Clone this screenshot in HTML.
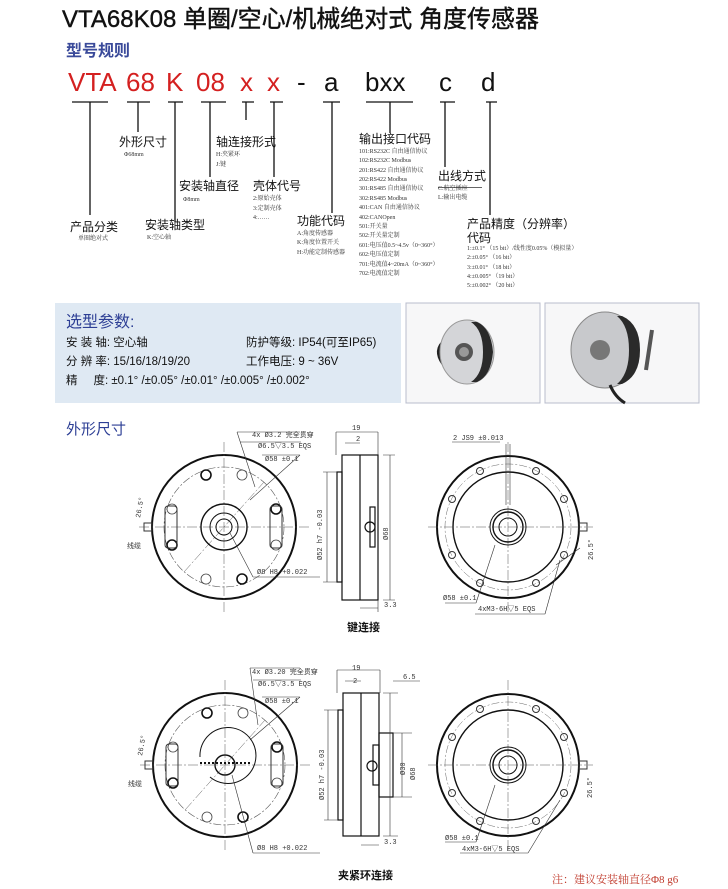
<!DOCTYPE html>
<html><head><meta charset="utf-8"><style>
html,body{margin:0;padding:0;background:#fff;}
svg{display:block;font-family:"Liberation Sans","Noto Sans CJK SC",sans-serif;}
.s{font-family:"Liberation Serif","Noto Serif CJK SC",serif;font-size:6px;fill:#333}
.l{font-size:12px;fill:#111}
.d{font-family:"Liberation Mono","Noto Sans CJK SC",monospace;font-size:7px;fill:#333}
</style></head><body>
<svg width="728" height="889" viewBox="0 0 728 889" xmlns="http://www.w3.org/2000/svg">
<text x="62" y="27" font-size="24" fill="#111" stroke="#111" stroke-width=".4">VTA68K08 单圈/空心/机械绝对式 角度传感器</text>
<text x="66" y="56" font-size="16" font-weight="bold" fill="#3a4a9a">型号规则</text>
<g font-size="26" fill="#d42020">
<text x="68" y="91">VTA</text><text x="126" y="91">68</text><text x="166" y="91">K</text><text x="196" y="91">08</text><text x="240" y="91">x</text><text x="267" y="91">x</text></g>
<g font-size="26" fill="#111"><text x="297" y="91">-</text><text x="324" y="91">a</text><text x="365" y="91">bxx</text><text x="439" y="91">c</text><text x="481" y="91">d</text></g>
<g stroke="#111" stroke-width="1.3">
<path d="M72 102H108M90 102V215M127 102H150M138 102V132M168 102H183M175 102V222M201 102H226M210 102V177M242 102H254M246 102V120M270 102H283M274 102V177M323 102H340M332 102V213M366 102H413M390 102V133M440 102H455M445 102V167M486 102H497M490 102V215"/></g>
<text class="l" x="70" y="231">产品分类</text><text class="s" x="78" y="240">单圈绝对式</text>
<text class="l" x="119" y="146">外形尺寸</text><text class="s" x="124" y="156">Φ68mm</text>
<text class="l" x="216" y="146">轴连接形式</text><text class="s" x="216" y="156">H:夹紧环</text><text class="s" x="216" y="166">J:键</text>
<text class="l" x="179" y="190">安装轴直径</text><text class="s" x="183" y="201">Φ8mm</text>
<text class="l" x="253" y="190">壳体代号</text><text class="s" x="253" y="200">2:原始壳体</text><text class="s" x="253" y="210">3:定制壳体</text><text class="s" x="253" y="219">4:……</text>
<text class="l" x="145" y="229">安装轴类型</text><text class="s" x="147" y="239">K:空心轴</text>
<text class="l" x="297" y="225">功能代码</text><text class="s" x="297" y="235">A:角度传感器</text><text class="s" x="297" y="244">K:角度位置开关</text><text class="s" x="297" y="254">H:功能定制传感器</text>
<text class="l" x="359" y="143">输出接口代码</text>
<g class="s"><text x="359" y="153">101:RS232C 自由通信协议</text><text x="359" y="162">102:RS232C Modbus</text><text x="359" y="172">201:RS422 自由通信协议</text><text x="359" y="181">202:RS422 Modbus</text><text x="359" y="190">301:RS485 自由通信协议</text><text x="359" y="200">302:RS485 Modbus</text><text x="359" y="209">401:CAN 自由通信协议</text><text x="359" y="219">402:CANOpen</text><text x="359" y="228">501:开关量</text><text x="359" y="237">502:开关量定制</text><text x="359" y="247">601:电压值0.5~4.5v（0~360°）</text><text x="359" y="256">602:电压值定制</text><text x="359" y="266">701:电流值4~20mA（0~360°）</text><text x="359" y="275">702:电流值定制</text></g>
<text class="l" x="438" y="180">出线方式</text><text class="s" x="438" y="190">C:航空插座</text><path d="M438 187.5H482" stroke="#333" stroke-width=".8"/><text class="s" x="438" y="199">L:输出电缆</text>
<text class="l" x="467" y="228">产品精度（分辨率）</text><text class="l" x="467" y="242">代码</text>
<g class="s"><text x="467" y="250">1:±0.1° （15 bit）/线性度0.05%（模拟量）</text><text x="467" y="259">2:±0.05° （16 bit）</text><text x="467" y="269">3:±0.01° （18 bit）</text><text x="467" y="278">4:±0.005° （19 bit）</text><text x="467" y="287">5:±0.002° （20 bit）</text></g>
<rect x="55" y="303" width="346" height="100" fill="#dfe9f3"/>
<text x="66" y="327" font-size="16" fill="#2d3f95">选型参数:</text>
<g font-size="11.5" fill="#111"><text x="66" y="346">安 装 轴: 空心轴</text><text x="66" y="365">分 辨 率: 15/16/18/19/20</text><text x="66" y="384">精 &#160; &#160; 度: ±0.1° /±0.05° /±0.01° /±0.005° /±0.002°</text>
<text x="246" y="346">防护等级: IP54(可至IP65)</text><text x="246" y="365">工作电压: 9 ~ 36V</text></g>
<rect x="406" y="303" width="134" height="100" fill="#f7f7f8" stroke="#b8bccc"/>
<rect x="545" y="303" width="154" height="100" fill="#f7f7f8" stroke="#b8bccc"/>
<path d="M445 340q-12 10 -2 24" stroke="#222" stroke-width="3" fill="none"/>
<ellipse cx="467" cy="352" rx="27" ry="32" fill="#d4d5d8" stroke="#999"/><path d="M477 322q14 6 16 30q-2 24-16 30l-6 0q12-8 12-30q0-22-12-30z" fill="#2a2a2a"/><circle cx="464" cy="352" r="9" fill="#555"/><circle cx="464" cy="352" r="5" fill="#999"/>
<ellipse cx="605" cy="350" rx="34" ry="38" fill="#c8c9cc" stroke="#888"/><path d="M622 316q18 8 18 34q0 26-18 34l-5 0q12-10 12-34q0-24-12-34z" fill="#2a2a2a"/><circle cx="600" cy="350" r="10" fill="#777"/><path d="M652 330l-6 40" stroke="#555" stroke-width="4"/><path d="M610 385q5 12 15 18" stroke="#222" stroke-width="3" fill="none"/>
<text x="66" y="434" font-size="15" fill="#2d3f95">外形尺寸</text>
<defs>
<g id="fv">
<circle r="72" fill="none" stroke="#111" stroke-width="2"/>
<circle r="60" fill="none" stroke="#555" stroke-width=".6" stroke-dasharray="8 2 2 2"/>
<path d="M-85 0H85M0-85V85M-40 45L40-45" stroke="#555" stroke-width=".5" stroke-dasharray="10 2 2 2"/>
<g fill="none" stroke="#111" stroke-width="1.6"><circle cx="-18" cy="-52" r="5"/><circle cx="-52" cy="18" r="5"/><circle cx="52" cy="-18" r="5"/><circle cx="18" cy="52" r="5"/></g>
<g fill="none" stroke="#444" stroke-width=".8"><circle cx="18" cy="-52" r="5"/><circle cx="-52" cy="-18" r="5"/><circle cx="52" cy="18" r="5"/><circle cx="-18" cy="52" r="5"/></g>
<rect x="-59" y="-21" width="12" height="42" rx="3" fill="none" stroke="#333"/><rect x="46" y="-21" width="12" height="42" rx="3" fill="none" stroke="#333"/>
<rect x="-80" y="-4" width="8" height="8" fill="none" stroke="#333"/>
</g>
<g id="rv">
<circle r="71" fill="none" stroke="#111" stroke-width="2"/>
<circle r="55" fill="none" stroke="#111" stroke-width="1.4"/>
<circle r="63" fill="none" stroke="#666" stroke-width=".5" stroke-dasharray="8 2 2 2"/>
<path d="M-80 0H85M0-85V85" stroke="#555" stroke-width=".5" stroke-dasharray="10 2 2 2"/>
<g fill="none" stroke="#333"><circle cx="-28" cy="-56" r="3.5"/><circle cx="28" cy="-56" r="3.5"/><circle cx="-56" cy="-28" r="3.5"/><circle cx="56" cy="-28" r="3.5"/><circle cx="-56" cy="28" r="3.5"/><circle cx="56" cy="28" r="3.5"/><circle cx="-28" cy="56" r="3.5"/><circle cx="28" cy="56" r="3.5"/></g>
<circle r="18" fill="none" stroke="#111"/><circle r="15" fill="none" stroke="#111" stroke-width="1.4"/><circle r="9" fill="none" stroke="#111"/>
<rect x="71" y="-4" width="8" height="8" fill="none" stroke="#333"/>
</g>
</defs>
<use href="#fv" x="224" y="527"/>
<g fill="none" stroke="#111"><circle cx="224" cy="527" r="23" stroke-width="1.4"/><circle cx="224" cy="527" r="14"/><circle cx="224" cy="527" r="8"/></g>
<use href="#rv" x="508" y="527"/>
<use href="#fv" x="225" y="765"/>
<g fill="none" stroke="#111"><path d="M200 757a28 28 0 1 1 10 20"/><circle cx="225" cy="765" r="10" stroke-width="1.4"/><path d="M200 763H250" stroke-dasharray="2 2" stroke-width="2"/></g>
<use href="#rv" x="508" y="765"/>
<g fill="none" stroke="#111" stroke-width="1.2">
<rect x="342" y="455" width="36" height="145"/><path d="M360 455V600"/><rect x="337" y="472" width="5" height="110"/><rect x="370" y="507" width="5" height="40"/><circle cx="370" cy="527" r="5"/>
<rect x="343" y="693" width="36" height="143"/><path d="M361 693V836"/><rect x="338" y="710" width="5" height="110"/><rect x="379" y="733" width="14" height="64"/><rect x="373" y="745" width="6" height="40"/><circle cx="372" cy="766" r="5"/></g>
<g stroke="#333" stroke-width=".6" fill="none">
<path d="M336 432H378M336 432V455M378 432V455M345 443H360M323 472H337M323 582H337M327 472V582M383 455H395M383 600H395M390 455V600M360 608H378M378 600V612"/>
<path d="M237 432H300M237 432L255 487M240 442H301M300 455H262M300 455L250 500M253 577H320M253 577L230 533"/>
<path d="M337 670H380M337 670V693M380 670V693M345 681H361M393 681H420M324 710H338M324 820H338M328 710V820M393 733H412M393 797H412M402 733V797M383 693H398M383 836H398M390 693V836M361 845H379"/>
<path d="M250 668H300M250 668L258 725M253 680H301M300 697H262M300 697L250 740M253 853H320M253 853L232 775"/>
<path d="M452 442H500M506 444V505M510 444V505M445 603H476M476 603L495 545M475 614H545M545 614L560 560M556 565L580 548"/>
<path d="M445 842H476M476 842L495 785M460 853H528M528 853L560 800"/>
</g>
<g class="d"><text x="252" y="437">4x Ø3.2 完全贯穿</text><text x="258" y="448">Ø6.5▽3.5 EQS</text><text x="265" y="461">Ø58 ±0.1</text><text x="257" y="574">Ø8 H8 +0.022</text><text x="352" y="430">19</text><text x="356" y="441">2</text><text x="384" y="607">3.3</text><text x="453" y="440">2 JS9 ±0.013</text><text x="443" y="600">Ø58 ±0.1</text><text x="478" y="611">4xM3-6H▽5 EQS</text>
<text x="252" y="674">4x Ø3.20 完全贯穿</text><text x="258" y="686">Ø6.5▽3.5 EQS</text><text x="265" y="703">Ø58 ±0.1</text><text x="257" y="850">Ø8 H8 +0.022</text><text x="352" y="670">19</text><text x="353" y="683">2</text><text x="403" y="679">6.5</text><text x="384" y="844">3.3</text><text x="445" y="840">Ø58 ±0.1</text><text x="462" y="851">4xM3-6H▽5 EQS</text>
<text x="127" y="548">线缆</text><text x="128" y="786">线缆</text>
<text transform="translate(322,560) rotate(-90)">Ø52 h7 -0.03</text><text transform="translate(388,540) rotate(-90)">Ø68</text>
<text transform="translate(324,800) rotate(-90)">Ø52 h7 -0.03</text><text transform="translate(405,775) rotate(-90)">Ø30</text><text transform="translate(415,780) rotate(-90)">Ø68</text>
<text transform="translate(140,518) rotate(-80)">26.5°</text><text transform="translate(142,756) rotate(-80)">26.5°</text>
<text transform="translate(593,560) rotate(-90)">26.5°</text><text transform="translate(592,798) rotate(-90)">26.5°</text></g>
<text x="347" y="631" font-size="11" font-weight="bold" fill="#111">键连接</text>
<text x="338" y="879" font-size="11" font-weight="bold" fill="#111">夹紧环连接</text>
<text x="552" y="883" font-size="11" fill="#c0392b" font-family="Liberation Serif,Noto Serif CJK SC,serif">注：建议安装轴直径Φ8 g6</text>
</svg>
</body></html>
